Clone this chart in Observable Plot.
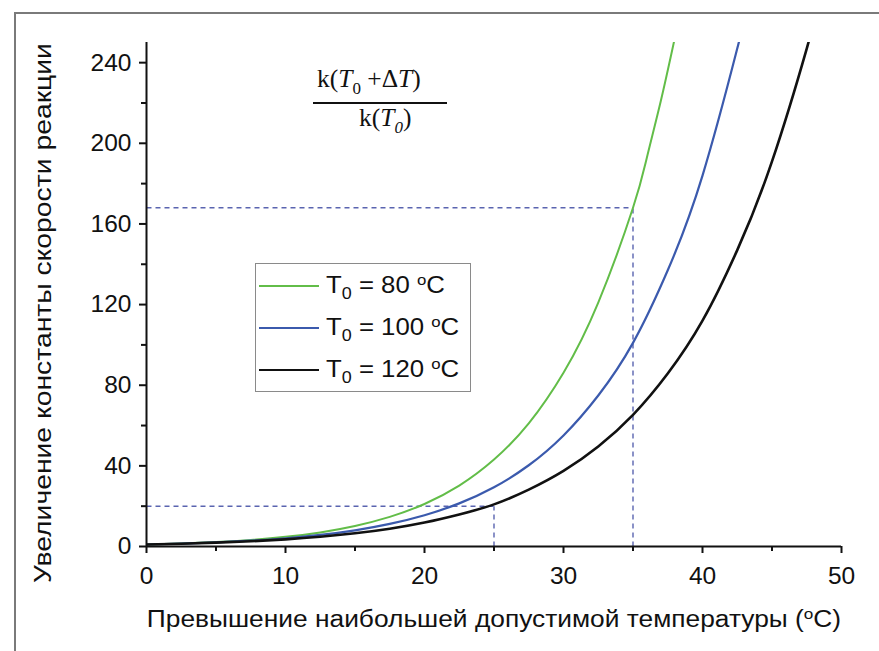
<!DOCTYPE html>
<html>
<head>
<meta charset="utf-8">
<script src="https://cdn.jsdelivr.net/npm/d3@7"></script>
<script src="https://cdn.jsdelivr.net/npm/@observablehq/plot@0.6"></script>
<style>
  body { margin: 0; background: #fff; }
  #wrap { position: relative; width: 879px; height: 651px; overflow: hidden; font-family: "Liberation Sans", Arial, sans-serif; color: #111; }
  #frame { position: absolute; left: 14px; top: 12px; width: 900px; height: 700px; border-left: 2px solid #7a7a7a; border-top: 2px solid #7a7a7a; }
  #chart { position: absolute; left: 0; top: 0; }
  #legend { position: absolute; left: 255px; top: 263px; width: 214px; height: 127px; border: 1.5px solid #8a8a8a; background: #fff; }
  .li { position: absolute; left: 0; height: 30px; font-size: 23px; white-space: nowrap; }
  .li .sw { position: absolute; left: 3px; top: 15px; width: 60px; height: 0; }
  .li .tx { position: absolute; left: 70px; top: 0; line-height: 30px; transform: scaleX(1.12); transform-origin: left center; }
  sub { font-size: 16px; vertical-align: -6px; line-height: 0; }
  sup { font-size: 15px; vertical-align: 8px; line-height: 0; }
  .ff { position: absolute; font-family: "Liberation Serif", "Times New Roman", serif; font-size: 25.5px; line-height: 30px; white-space: nowrap; }
  .ff sub { font-size: 17px; vertical-align: -7px; }
  #fline { position: absolute; left: 313px; top: 102px; width: 134px; height: 0; border-top: 2px solid #111; }
  #xlabel { position: absolute; left: 96px; width: 796px; top: 606px; line-height: 26px; text-align: center; font-size: 23px; white-space: nowrap; transform: scaleX(1.145); transform-origin: center; }
  #ylabel { position: absolute; left: 43px; top: 313px; width: 0; height: 0; }
  #ylabel div { position: absolute; left: 0; top: 0; font-size: 24px; line-height: 28px; white-space: nowrap; transform: translate(-50%, -50%) rotate(-90deg) scaleX(1.18); }
</style>
</head>
<body>
<div id="wrap">
  <div id="frame"></div>
  <div id="chart"></div>
  <div class="ff" style="left:317px; top:64px">k(<i>T</i><sub>0</sub> +Δ<i>T</i>)</div>
  <div id="fline"></div>
  <div class="ff" style="left:359px; top:103px">k(<i>T<sub>0</sub></i>)</div>
  <div id="legend"></div>
  <div id="xlabel">Превышение наибольшей допустимой температуры (<sup>o</sup>C)</div>
  <div id="ylabel"><div id="ylabeltext"></div></div>
</div>
<script>
// ΔT values (°C) and ratio k(T0+ΔT)/k(T0)
const dT80  = [0, 2.5, 5, 7.5, 10, 12.5, 15, 17.5, 20, 22.5, 25, 27.5, 30, 32.5, 35, 36, 37, 38];
const k80   = [1, 1.49, 2.21, 3.27, 4.79, 7.0, 10.2, 14.7, 21.1, 30.2, 43.1, 61.1, 86.2, 121, 168, 193, 221, 252];
const dT100 = [0, 2.5, 5, 7.5, 10, 12.5, 15, 17.5, 20, 22.5, 25, 27.5, 30, 32.5, 35, 37.5, 40, 42.5, 43];
const k100  = [1, 1.43, 2.04, 2.89, 4.08, 5.73, 8.02, 11.2, 15.5, 21.4, 29.4, 40.3, 55.1, 74.9, 101, 137, 184, 247, 261];
const dT120 = [0, 2.5, 5, 7.5, 10, 12.5, 15, 17.5, 20, 22.5, 25, 27.5, 30, 32.5, 35, 37.5, 40, 42.5, 45, 47.5, 48];
const k120  = [1, 1.38, 1.90, 2.60, 3.55, 4.83, 6.55, 8.83, 11.9, 15.9, 20.9, 28.2, 37.5, 49.6, 65.3, 85.8, 112, 147, 191, 247, 261];

const seriesNames = ["T0 = 80 °C", "T0 = 100 °C", "T0 = 120 °C"];
const legendHtml = ["T<sub>0</sub> = 80 <sup>o</sup>C", "T<sub>0</sub> = 100 <sup>o</sup>C", "T<sub>0</sub> = 120 <sup>o</sup>C"];
const colors = ["#62bd48", "#3b5aad", "#111111"];
const widths = [2, 2.2, 2.6];

// reference guides: [x, y]
const guides = [[35, 168], [25, 20]];

const xMajor = [0, 10, 20, 30, 40, 50];
const xMinor = [5, 15, 25, 35, 45];
const yMajor = [0, 40, 80, 120, 160, 200, 240];
const yMinor = [20, 60, 100, 140, 180, 220];

const yTitle = "Увеличение константы скорости реакции";

const toRows = (xs, ys, s) => xs.map((x, i) => ({x, y: ys[i], s}));
const rows = [
  ...toRows(dT80, k80, seriesNames[0]),
  ...toRows(dT100, k100, seriesNames[1]),
  ...toRows(dT120, k120, seriesNames[2])
];

const dash = {stroke: "#5a64b0", strokeWidth: 1.4, strokeDasharray: "5,4"};

const plot = Plot.plot({
  width: 879,
  height: 651,
  marginLeft: 146,
  marginRight: 38,
  marginTop: 42,
  marginBottom: 105,
  x: {domain: [0, 50], axis: null},
  y: {domain: [0, 250], axis: null},
  style: {fontFamily: "Liberation Sans, Arial, sans-serif", fontSize: "24.5px", color: "#111", background: "transparent"},
  marks: [
    Plot.link(guides, {x1: 0, x2: d => d[0], y1: d => d[1], y2: d => d[1], ...dash}),
    Plot.link(guides, {x1: d => d[0], x2: d => d[0], y1: 0, y2: d => d[1], ...dash}),
    ...seriesNames.map((name, i) =>
      Plot.line(rows.filter(r => r.s === name), {x: "x", y: "y", curve: "natural", stroke: colors[i], strokeWidth: widths[i], clip: true})
    ),
    Plot.axisX({ticks: xMajor, tickSize: 7, tickPadding: 13, strokeWidth: 2, label: null, fontSize: 24.5}),
    Plot.axisX({ticks: xMinor, tickSize: 5, tickFormat: () => "", strokeWidth: 2, label: null}),
    Plot.axisY({ticks: yMajor, tickSize: 7, tickPadding: 8, strokeWidth: 2, label: null, fontSize: 24.5}),
    Plot.axisY({ticks: yMinor, tickSize: 5, tickFormat: () => "", strokeWidth: 2, label: null}),
    Plot.ruleX([0], {stroke: "#111", strokeWidth: 2}),
    Plot.ruleY([0], {stroke: "#111", strokeWidth: 2})
  ]
});
document.getElementById("chart").appendChild(plot);

document.getElementById("ylabeltext").textContent = yTitle;

const legend = document.getElementById("legend");
legendHtml.forEach((h, i) => {
  const d = document.createElement("div");
  d.className = "li";
  d.style.top = (6 + i * 42) + "px";
  d.innerHTML = `<div class="sw" style="border-top:${widths[i]}px solid ${colors[i]}"></div><div class="tx">${h}</div>`;
  legend.appendChild(d);
});
</script>
</body>
</html>
